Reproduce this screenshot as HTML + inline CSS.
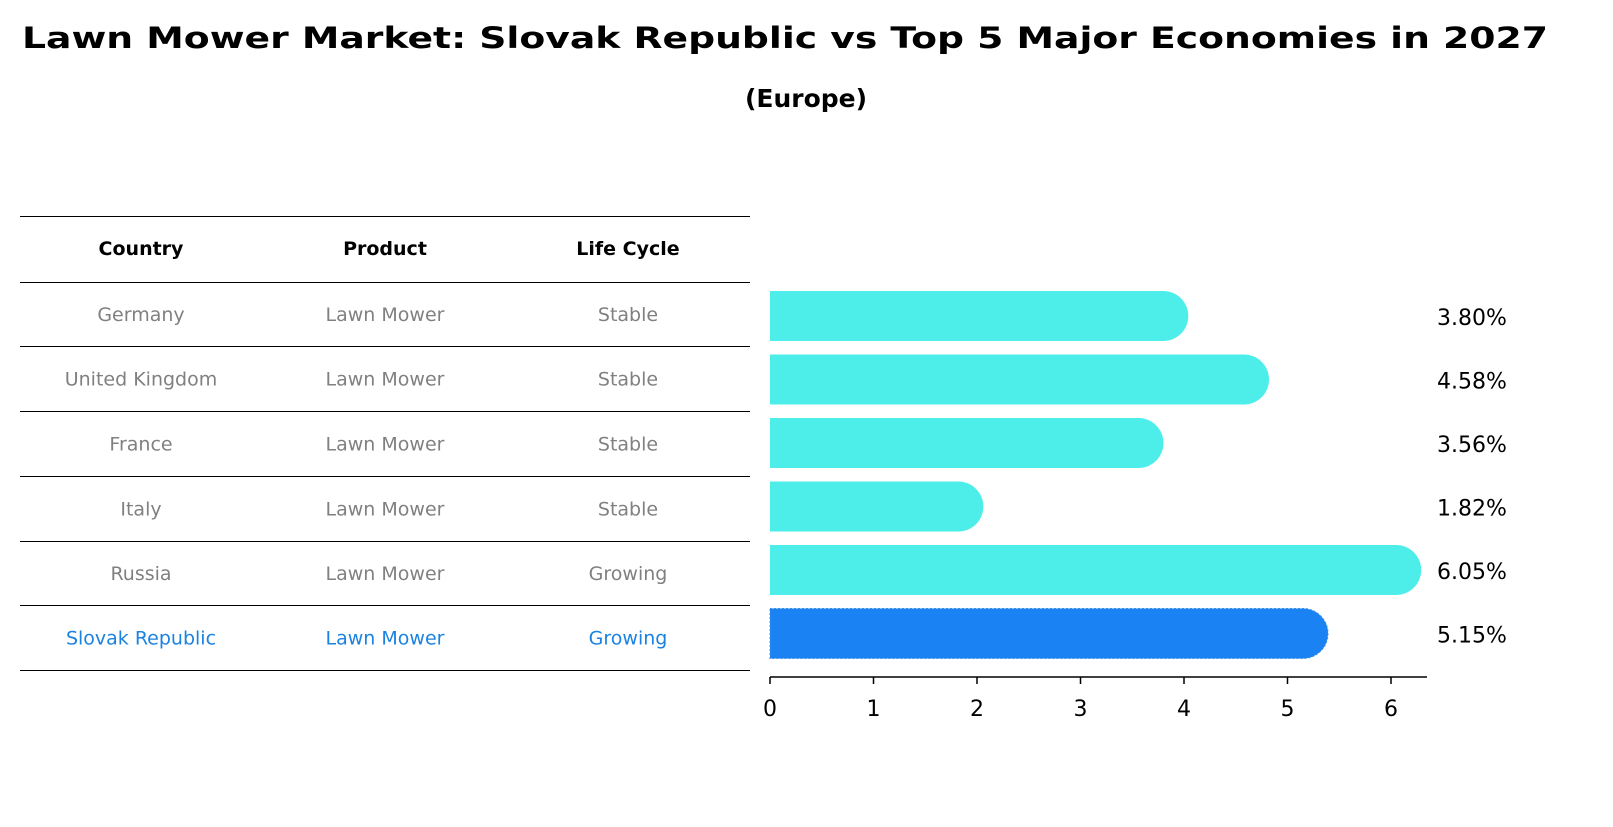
<!DOCTYPE html>
<html><head><meta charset="utf-8"><style>
body{margin:0;background:#fff;font-family:"DejaVu Sans","Liberation Sans",sans-serif;}
</style></head><body>
<svg width="1613" height="823" xmlns="http://www.w3.org/2000/svg" font-family="DejaVu Sans, Liberation Sans, sans-serif">
<text x="22" y="48" font-size="29" font-weight="bold" textLength="1526" lengthAdjust="spacingAndGlyphs">Lawn Mower Market: Slovak Republic vs Top 5 Major Economies in 2027</text>
<text x="806" y="107" text-anchor="middle" font-size="25" font-weight="bold">(Europe)</text>
<g id="table"></g>
<g id="bars"></g>
<g id="axis"></g>
</svg>
<script>
const countries=["Germany","United Kingdom","France","Italy","Russia","Slovak Republic"];
const products=["Lawn Mower","Lawn Mower","Lawn Mower","Lawn Mower","Lawn Mower","Lawn Mower"];
const lifecycles=["Stable","Stable","Stable","Stable","Growing","Growing"];
const values=[3.80,4.58,3.56,1.82,6.05,5.15];
const ticks=[0,1,2,3,4,5,6];
const NS="http://www.w3.org/2000/svg";
function mk(t,a,p,txt){const e=document.createElementNS(NS,t);for(const k in a)e.setAttribute(k,a[k]);if(txt!==undefined)e.textContent=txt;p.appendChild(e);return e;}
const x=v=>770+v*103.5;
const rowY=i=>316+i*63.5;
const tb=document.getElementById('table');
const lines=[216,282,346,411,476,541,605,670];
lines.forEach((y,i)=>{const l=mk('line',{x1:20,x2:750,y1:y+0.5,y2:y+0.5,stroke:'#000','stroke-width':1},tb);

});
const cx=[141,385,628];
["Country","Product","Life Cycle"].forEach((h,j)=>{const t=mk('text',{x:cx[j],y:255,'text-anchor':'middle','font-size':19,'font-weight':'bold'},tb,h);

});
countries.forEach((c,i)=>{const col=i===5?'#1a82e2':'#808080';const y=(lines[i+1]+lines[i+2])/2+7;
[c,products[i],lifecycles[i]].forEach((v,j)=>{const t=mk('text',{x:cx[j],y:y,'text-anchor':'middle','font-size':19,fill:col},tb,v);

});});
const bg=document.getElementById('bars');
values.forEach((v,i)=>{const y=rowY(i);const end=x(v);const r=25;
const d=`M${x(0)},${y-r} H${end} A${r},${r} 0 0 1 ${end},${y+r} H${x(0)} Z`;
const p=mk('path',{d:d,fill:i===5?'#1a82f2':'#4deeea'},bg);
if(i===5){p.setAttribute('stroke','#3a90e8');p.setAttribute('stroke-dasharray','2,2');}


const t=mk('text',{x:1437,y:y+9,'font-size':22},bg,v.toFixed(2)+'%');

});
const ax=document.getElementById('axis');
mk('line',{x1:770,x2:1427,y1:677,y2:677,stroke:'#000','stroke-width':1.5},ax);
ticks.forEach(v=>{mk('line',{x1:x(v),x2:x(v),y1:677,y2:684,stroke:'#000','stroke-width':1.5},ax);
const t=mk('text',{x:x(v),y:716,'text-anchor':'middle','font-size':22},ax,String(v));

});
</script>
</body></html>
